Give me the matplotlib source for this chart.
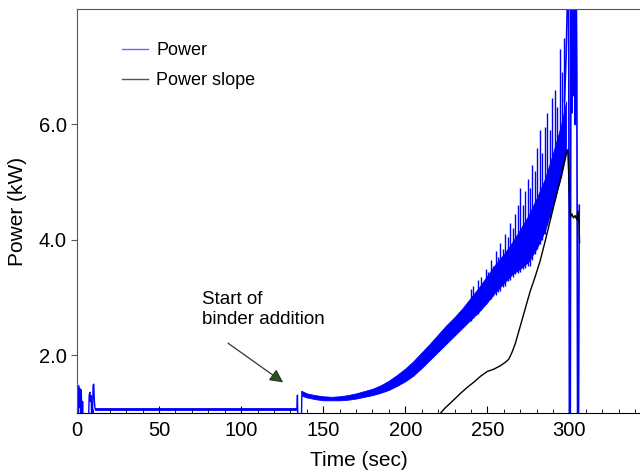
import numpy as np
import matplotlib
matplotlib.use('Agg')
import matplotlib.pyplot as plt
from matplotlib.ticker import MultipleLocator, FixedLocator, FormatStrFormatter

plt.rcParams['font.family'] = ['Liberation Sans', 'DejaVu Sans']

# start-up spikes (sec, kW)
start_t = [0, 0.3, 0.6, 1.0, 1.4, 1.8, 2.2, 2.6, 3.0, 3.4, 3.8, 7.0, 7.4, 7.8,
           8.2, 8.6, 9.0, 9.4, 9.8, 10.2, 10.6, 11.0, 11.5]
start_p = [0.8, 1.45, 0.8, 1.47, 1.1, 1.42, 0.8, 1.40, 0.8, 1.2, 0.8, 0.8, 1.30,
           1.36, 1.2, 1.30, 0.8, 0.9, 1.48, 1.50, 1.2, 1.07, 1.07]

# idle band before binder addition
idle_t = [11, 134]
idle_lo = [1.05, 1.05]
idle_hi = [1.095, 1.095]

# step at binder addition
step_t = [133.5, 134.0, 134.3, 134.6, 136.7, 137.0]
step_p = [1.07, 1.07, 1.31, 0.8, 0.8, 1.37]

# dense core of the noisy band after addition
band_t = [137, 140, 145, 150, 155, 160, 165, 170, 175, 180, 185, 190, 195, 200,
          205, 210, 215, 220, 225, 230, 235, 240, 245, 250, 255, 260, 265, 270,
          275, 280, 285, 290, 295, 298]
band_lo = [1.30, 1.27, 1.24, 1.22, 1.22, 1.22, 1.23, 1.25, 1.28, 1.31, 1.35, 1.40,
           1.47, 1.55, 1.65, 1.78, 1.92, 2.06, 2.20, 2.34, 2.48, 2.62, 2.76, 2.92,
           3.10, 3.25, 3.40, 3.50, 3.62, 3.85, 4.15, 4.60, 5.10, 5.50]
band_hi = [1.38, 1.34, 1.31, 1.29, 1.28, 1.29, 1.31, 1.34, 1.38, 1.42, 1.48, 1.56,
           1.66, 1.77, 1.90, 2.05, 2.20, 2.36, 2.52, 2.66, 2.82, 3.00, 3.18, 3.38,
           3.58, 3.75, 3.95, 4.18, 4.42, 4.72, 5.05, 5.50, 6.00, 6.40]

# single oscillation spikes
spk_t = [240, 241.5, 243, 244.5, 246, 247.5, 249, 250.5, 252, 253.5, 255, 256.5,
         258, 259.5, 261, 262.5, 264, 265.5, 267, 268.5, 270, 271.5, 273, 274.5,
         276, 277.5, 279, 280.5, 282, 283.5, 285, 286.5, 288, 289.5, 291, 292.5,
         294, 295.5, 297]
spk_lo = [2.60, 2.65, 2.70, 2.72, 2.78, 2.85, 2.88, 2.95, 2.98, 3.02, 3.05, 3.10,
          3.12, 3.18, 3.20, 3.28, 3.30, 3.35, 3.40, 3.42, 3.45, 3.50, 3.52, 3.55,
          3.55, 3.65, 3.75, 3.85, 3.93, 4.00, 4.10, 4.25, 4.40, 4.60, 4.70, 4.90,
          5.20, 5.30, 5.50]
spk_hi = [3.15, 3.20, 3.10, 3.30, 3.35, 3.25, 3.50, 3.45, 3.65, 3.55, 3.80, 3.70,
          3.95, 3.85, 4.10, 4.05, 4.30, 4.20, 4.45, 4.60, 4.90, 4.60, 4.85, 5.05,
          4.90, 5.30, 5.20, 5.60, 5.90, 5.50, 5.95, 6.20, 5.90, 6.45, 6.60, 6.30,
          7.30, 6.90, 7.50]

# end of run
end_t = [297, 298, 299.5, 300, 300.5, 301, 301.5, 302, 302.5, 303, 303.5, 304,
         304.5, 305, 305.5, 306]
end_p = [6.4, 7.2, 9, 0.5, 0.5, 9, 6.2, 9, 6.5, 9, 6.0, 9, 7.0, 0.5, 0.5, 4.6]

# power slope
slope_t = [220, 224, 227, 230, 234, 238, 242, 246, 250, 254, 258, 261, 263, 265,
           267, 270, 273, 276, 279, 282, 285, 288, 291, 294, 296, 298, 299, 299.6,
           300.2, 300.8, 301.5, 302.5, 303.5, 304.5, 305.2, 305.8, 306.2]
slope_p = [0.95, 1.08, 1.16, 1.24, 1.35, 1.45, 1.54, 1.64, 1.72, 1.76, 1.82, 1.88,
           1.93, 2.05, 2.2, 2.5, 2.8, 3.1, 3.35, 3.62, 3.95, 4.3, 4.65, 5.0, 5.25,
           5.5, 5.56, 5.1, 4.55, 4.4, 4.45, 4.38, 4.42, 4.35, 4.5, 4.3, 3.95]

blue = '#0000ff'

fig = plt.figure(figsize=(6.4, 4.71), dpi=100)
ax = fig.add_axes([77/640, 1-413/471, 1-77/640, (413-9)/471])

ax.plot(start_t, start_p, color=blue, lw=1)
ax.fill_between(idle_t, idle_lo, idle_hi, color=blue, lw=0.6)
ax.plot(step_t, step_p, color=blue, lw=1)
ax.fill_between(band_t, band_lo, band_hi, color=blue, lw=0.6, edgecolor=blue)
ax.vlines(spk_t, spk_lo, spk_hi, color=blue, lw=1)
ax.plot(end_t, end_p, color=blue, lw=1.2)
ax.plot(slope_t, slope_p, color='black', lw=1, zorder=5)

# legend proxies (lighter than the data lines, as in the original)
ax.plot([], [], color='#6a6aff', lw=1, label='Power')
ax.plot([], [], color='#555555', lw=1, label='Power slope')
h, l = ax.get_legend_handles_labels()
ax.legend(h[-2:], l[-2:], loc='upper left', bbox_to_anchor=(0.051, 0.958),
          frameon=False, fontsize=13, handlelength=1.45, handletextpad=0.45,
          labelspacing=0.72)

ax.text(76, 2.47, 'Start of\nbinder addition', fontsize=13.5, ha='left',
        va='bottom', linespacing=1.28)
ax.annotate('', xy=(125.6, 1.53), xytext=(92, 2.21),
            arrowprops=dict(arrowstyle='-|>', ec='#333333', fc='#1f5a13', lw=0.9,
                            mutation_scale=20, shrinkA=0, shrinkB=0))

ax.set_xlim(0, 343)
ax.set_ylim(1.0, 8.0)
ax.xaxis.set_major_locator(MultipleLocator(50))
ax.xaxis.set_minor_locator(MultipleLocator(10))
ax.yaxis.set_major_locator(FixedLocator([2, 4, 6]))
ax.yaxis.set_major_formatter(FormatStrFormatter('%.1f'))
ax.tick_params(axis='x', which='major', direction='in', length=5, labelsize=14.5, pad=6)
ax.tick_params(axis='x', which='minor', direction='in', length=3)
ax.tick_params(axis='y', direction='out', length=4, labelsize=14.5, color='#555555')
ax.spines['right'].set_visible(False)
for s in ['left', 'top']:
    ax.spines[s].set_color('#555555')
ax.spines['bottom'].set_color('black')
ax.set_xlabel('Time (sec)', fontsize=15, labelpad=8)
ax.set_ylabel('Power (kW)', fontsize=15, labelpad=8)

fig.savefig('out.png', dpi=100)
